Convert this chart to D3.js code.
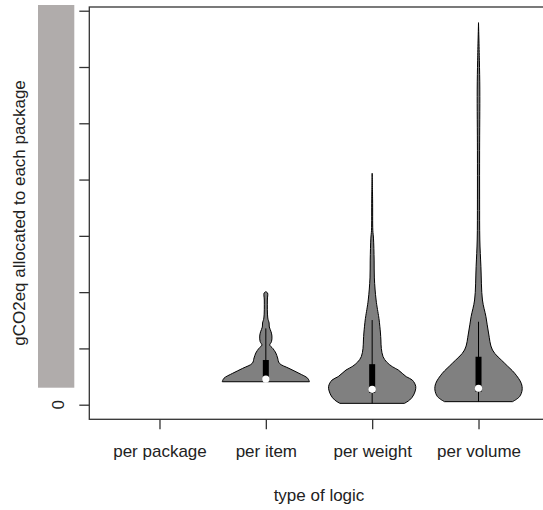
<!DOCTYPE html>
<html>
<head>
<meta charset="utf-8">
<script src="https://cdn.jsdelivr.net/npm/d3@7"></script>
<style>
  body { margin: 0; background: #fff; }
  text { font-family: "Liberation Sans", Arial, sans-serif; fill: #222; }
</style>
</head>
<body>
<div id="chart"></div>
<script>
// categories on the x axis
var categories = ["per package", "per item", "per weight", "per volume"];

// y ticks (labels are hidden behind a grey box, only 0 shows)
var yTicks = [0, 50, 100, 150, 200, 250, 300, 350];

// violin outlines: [value, relative half width]
var itemShape = [
  [20.4, 1.0], [23.5, 0.96], [27.9, 0.76], [32.3, 0.53], [36.8, 0.31],
  [41.5, 0.27], [45.9, 0.23], [50, 0.16], [53, 0.09], [56, 0.13],
  [61, 0.14], [64.8, 0.12], [69, 0.08], [72.6, 0.075], [77, 0.045],
  [93, 0.035], [99.2, 0.04], [100.4, 0]
];
var weightShape = [
  [1.2, 0.74], [4.2, 0.86], [8.6, 0.95], [16, 1.0], [21.9, 0.92],
  [24.9, 0.78], [30.8, 0.6], [33.8, 0.46], [38, 0.33], [42.6, 0.25],
  [50, 0.21], [57.5, 0.2], [63.7, 0.19], [75.2, 0.16], [78, 0.15],
  [93, 0.09], [112.6, 0.05], [128.5, 0.045], [148, 0.03], [155, 0.015],
  [181.9, 0.01], [205.6, 0]
];
var volumeShape = [
  [2.7, 0.78], [7.1, 0.94], [13.1, 1.0], [19, 0.98], [27.9, 0.83],
  [36.8, 0.6], [48.6, 0.32], [63.7, 0.23], [78.2, 0.17], [93, 0.09],
  [122.6, 0.055], [146.3, 0.03], [181.9, 0.025], [226, 0.025],
  [279.6, 0.03], [306, 0.02], [339.4, 0]
];

// box stats: [lower whisker, q1, median, q3, upper whisker]
var itemBox = [20.4, 21, 22.8, 39.7, 67.8];
var weightBox = [1.2, 10.4, 13.7, 36, 75.2];
var volumeBox = [2.7, 11.3, 14.6, 42.6, 73.7];

var violins = [
  { pos: 2, shape: itemShape, box: itemBox },
  { pos: 3, shape: weightShape, box: weightBox },
  { pos: 4, shape: volumeShape, box: volumeBox }
];

var svg = d3.select("#chart").append("svg")
  .attr("width", 543)
  .attr("height", 510);

// R style limits: data range plus 4%
var x = d3.scaleLinear().domain([0.34, 4.66]).range([89.3, 548.7]);
var y = d3.scaleLinear().domain([-12.97, 353.3]).range([419.3, 7]);

var halfW = 0.41; // max half width of a violin in x units

// violins
var area = d3.area()
  .curve(d3.curveCatmullRom)
  .y(function (d) { return y(d[0]); });

violins.forEach(function (v) {
  area.x0(function (d) { return x(v.pos - d[1] * halfW); })
      .x1(function (d) { return x(v.pos + d[1] * halfW); });
  svg.append("path")
    .datum(v.shape)
    .attr("d", area)
    .attr("fill", "#808080")
    .attr("stroke", "#000")
    .attr("stroke-width", 1);

  // whisker line
  svg.append("line")
    .attr("x1", x(v.pos)).attr("x2", x(v.pos))
    .attr("y1", y(v.box[0])).attr("y2", y(v.box[4]))
    .attr("stroke", "#000").attr("stroke-width", 1);

  // box
  svg.append("rect")
    .attr("x", x(v.pos) - 3)
    .attr("width", 6)
    .attr("y", y(v.box[3]))
    .attr("height", y(v.box[1]) - y(v.box[3]))
    .attr("fill", "#000");

  // median
  svg.append("circle")
    .attr("cx", x(v.pos))
    .attr("cy", y(v.box[2]))
    .attr("r", 3.6)
    .attr("fill", "#fff");
});

// plot frame
svg.append("rect")
  .attr("x", 89.3).attr("y", 7)
  .attr("width", 548.7 - 89.3).attr("height", 419.3 - 7)
  .attr("fill", "none")
  .attr("stroke", "#333")
  .attr("stroke-width", 1.3);

// y axis ticks
svg.append("g")
  .attr("transform", "translate(89.3,0)")
  .call(d3.axisLeft(y).tickValues(yTicks).tickSize(10).tickFormat(""))
  .call(function (g) {
    g.select(".domain").remove();
    g.selectAll("line").attr("stroke", "#333").attr("stroke-width", 1.3);
  });

svg.append("text")
  .attr("transform", "translate(58," + y(0) + ") rotate(-90)")
  .attr("text-anchor", "middle")
  .attr("dy", "0.35em")
  .attr("font-size", "17px")
  .text("0");

// grey box hiding the other y labels
svg.append("rect")
  .attr("x", 38).attr("y", 5)
  .attr("width", 36.3).attr("height", 382.7)
  .attr("fill", "#b0acab");

// x axis ticks and labels
var xAxis = svg.append("g")
  .attr("transform", "translate(0,419.3)")
  .call(d3.axisBottom(x).tickValues([1, 2, 3, 4]).tickSize(10)
    .tickFormat(function (d) { return categories[d - 1]; }));
xAxis.select(".domain").remove();
xAxis.selectAll("line").attr("stroke", "#333").attr("stroke-width", 1.3);
xAxis.selectAll("text")
  .attr("y", 32)
  .attr("dy", "0.35em")
  .attr("font-size", "17px")
  .attr("font-family", "Liberation Sans, Arial, sans-serif")
  .attr("fill", "#222");

// axis titles
svg.append("text")
  .attr("x", x(2.5))
  .attr("y", 495)
  .attr("dy", "0.35em")
  .attr("text-anchor", "middle")
  .attr("font-size", "17px")
  .text("type of logic");

svg.append("text")
  .attr("transform", "translate(19,213) rotate(-90)")
  .attr("text-anchor", "middle")
  .attr("dy", "0.35em")
  .attr("font-size", "17px")
  .text("gCO2eq allocated to each package");
</script>
</body>
</html>
